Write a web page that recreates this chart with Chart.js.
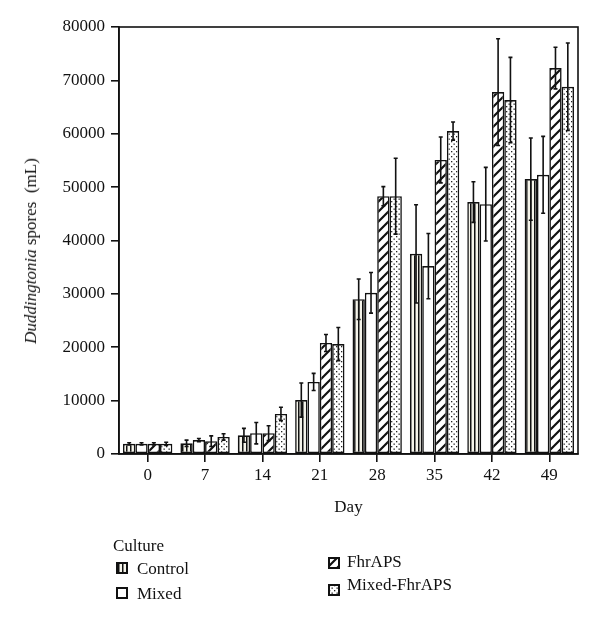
<!DOCTYPE html>
<html>
<head>
<meta charset="utf-8">
<script src="https://cdn.jsdelivr.net/npm/chart.js@4/dist/chart.umd.min.js"></script>
<style>
  body { margin: 0; background: #fff; }
  #wrap { position: relative; width: 600px; height: 627px; font-family: 'Liberation Serif', serif; color: #111; }
  #myChart { position: absolute; left: 0; top: 0; }
  .lbl { position: absolute; font-size: 17px; white-space: nowrap; line-height: 1; }
  .sw { position: absolute; width: 12px; height: 12px; }
  #ytitle { position: absolute; left: 31px; top: 251px; font-size: 17px; white-space: nowrap;
            transform: translate(-50%, -50%) rotate(-90deg); }
</style>
</head>
<body>
<div id="wrap">
  <canvas id="myChart" width="600" height="627"></canvas>
  <div id="ytitle"><i>Duddingtonia</i> spores&nbsp; (mL)</div>
  <div class="lbl" style="left:113px; top:537px;">Culture</div>
  <canvas class="sw" id="sw0" width="12" height="12" style="left:116px; top:562px;"></canvas>
  <div class="lbl" style="left:137px; top:560px;">Control</div>
  <canvas class="sw" id="sw1" width="12" height="12" style="left:116px; top:587px;"></canvas>
  <div class="lbl" style="left:137px; top:585px;">Mixed</div>
  <canvas class="sw" id="sw2" width="12" height="12" style="left:328px; top:557px;"></canvas>
  <div class="lbl" style="left:347px; top:553px;">FhrAPS</div>
  <canvas class="sw" id="sw3" width="12" height="12" style="left:328px; top:584px;"></canvas>
  <div class="lbl" style="left:347px; top:576px;">Mixed-FhrAPS</div>
</div>
<script>
const days = ["0", "7", "14", "21", "28", "35", "42", "49"];
const seriesNames = ["Control", "Mixed", "FhrAPS", "Mixed-FhrAPS"];

const control = [1900, 2000, 3500, 10100, 29000, 37500, 47200, 51500];
const mixed = [1900, 2600, 3900, 13500, 30200, 35200, 46800, 52300];
const fhraps = [1900, 2400, 3900, 20800, 48300, 55100, 67800, 72300];
const mixedFhraps = [1900, 3200, 7500, 20600, 48300, 60500, 66300, 68800];

const controlErr = [200, 600, 1300, 3200, 3800, 9200, 3800, 7700];
const mixedErr = [200, 300, 2000, 1600, 3800, 6100, 6900, 7200];
const fhrapsErr = [200, 1000, 1400, 1600, 1800, 4300, 10000, 3900];
const mixedFhrapsErr = [300, 600, 1250, 3100, 7100, 1700, 8000, 8200];

const yTicks = [0, 10000, 20000, 30000, 40000, 50000, 60000, 70000, 80000];

// --- fill patterns for the bars
function makePattern(kind) {
    let c = document.createElement("canvas");
    let g = c.getContext("2d");
    if (kind === "vlines") {
        c.width = 4; c.height = 4;
        g.fillStyle = "#f5f4ea";
        g.fillRect(0, 0, 4, 4);
        g.fillStyle = "#111";
        g.fillRect(2, 0, 1.5, 4);
    } else if (kind === "diag") {
        c.width = 10; c.height = 10;
        g.fillStyle = "#fff";
        g.fillRect(0, 0, 10, 10);
        g.strokeStyle = "#111";
        g.lineWidth = 2.2;
        g.beginPath();
        g.moveTo(-2, 12); g.lineTo(12, -2);
        g.moveTo(-2, 2); g.lineTo(2, -2);
        g.moveTo(8, 12); g.lineTo(12, 8);
        g.stroke();
    } else if (kind === "dots") {
        c.width = 5; c.height = 5;
        g.fillStyle = "#fff";
        g.fillRect(0, 0, 5, 5);
        g.fillStyle = "#222";
        g.fillRect(1, 1, 1.3, 1.3);
        g.fillRect(3.5, 3.5, 1.3, 1.3);
    } else {
        c.width = 2; c.height = 2;
        g.fillStyle = "#fff";
        g.fillRect(0, 0, 2, 2);
    }
    return document.createElement("canvas").getContext("2d").createPattern(c, "repeat");
}

const fills = [makePattern("vlines"), makePattern("plain"), makePattern("diag"), makePattern("dots")];
const values = [control, mixed, fhraps, mixedFhraps];
const errors = [controlErr, mixedErr, fhrapsErr, mixedFhrapsErr];

// legend swatches
for (let i = 0; i < 4; i++) {
    let g = document.getElementById("sw" + i).getContext("2d");
    g.fillStyle = fills[i];
    g.fillRect(0, 0, 12, 12);
    g.strokeStyle = "#111";
    g.lineWidth = 2;
    g.strokeRect(1, 1, 10, 10);
}

Chart.defaults.font.family = "'Liberation Serif', serif";
Chart.defaults.font.size = 17;
Chart.defaults.color = "#111";

// error bars drawn on top of each bar
const errorBars = {
    id: "errorBars",
    afterDatasetsDraw(chart) {
        let ctx = chart.ctx;
        let y = chart.scales.y;
        ctx.save();
        ctx.strokeStyle = "#111";
        ctx.lineWidth = 1.6;
        chart.data.datasets.forEach(function (ds, i) {
            let meta = chart.getDatasetMeta(i);
            meta.data.forEach(function (bar, j) {
                let v = ds.data[j], e = errors[i][j];
                let top = y.getPixelForValue(v + e);
                let bot = y.getPixelForValue(Math.max(0, v - e));
                ctx.beginPath();
                ctx.moveTo(bar.x, top); ctx.lineTo(bar.x, bot);
                ctx.moveTo(bar.x - 2, top); ctx.lineTo(bar.x + 2, top);
                ctx.moveTo(bar.x - 2, bot); ctx.lineTo(bar.x + 2, bot);
                ctx.stroke();
            });
        });
        ctx.restore();
    }
};

// box round the plot
const frame = {
    id: "frame",
    afterDraw(chart) {
        let a = chart.chartArea;
        let ctx = chart.ctx;
        ctx.save();
        ctx.strokeStyle = "#111";
        ctx.lineWidth = 1.6;
        ctx.strokeRect(a.left, a.top, a.right - a.left, a.bottom - a.top);
        ctx.restore();
    }
};

new Chart(document.getElementById("myChart"), {
    type: "bar",
    data: {
        labels: days,
        datasets: seriesNames.map(function (name, i) {
            return {
                label: name,
                data: values[i],
                backgroundColor: fills[i],
                borderColor: "#111",
                borderWidth: 1.6,
                borderSkipped: false,
                categoryPercentage: 0.86,
                barPercentage: 1.0
            };
        })
    },
    options: {
        responsive: false,
        animation: false,
        layout: { padding: { left: 0, right: 22, top: 27, bottom: 100 } },
        plugins: {
            legend: { display: false },
            tooltip: { enabled: false }
        },
        scales: {
            x: {
                grid: { offset: false, drawOnChartArea: false, drawTicks: true, tickLength: 8, color: "#111", lineWidth: 1.6 },
                border: { color: "#111", width: 1.6 },
                ticks: { padding: 3, maxRotation: 0 },
                title: { display: true, text: "Day", padding: { top: 0, bottom: 9 } },
                afterFit: function (scale) { scale.height = 73; }
            },
            y: {
                min: 0,
                max: 80000,
                afterBuildTicks: function (scale) { scale.ticks = yTicks.map(function (v) { return { value: v }; }); },
                grid: { drawOnChartArea: false, drawTicks: true, tickLength: 8, color: "#111", lineWidth: 1.6 },
                border: { color: "#111", width: 1.6 },
                ticks: { padding: 6, callback: function (v) { return String(v); } },
                afterFit: function (scale) { scale.width = 119; }
            }
        }
    },
    plugins: [errorBars, frame]
});
</script>
</body>
</html>
